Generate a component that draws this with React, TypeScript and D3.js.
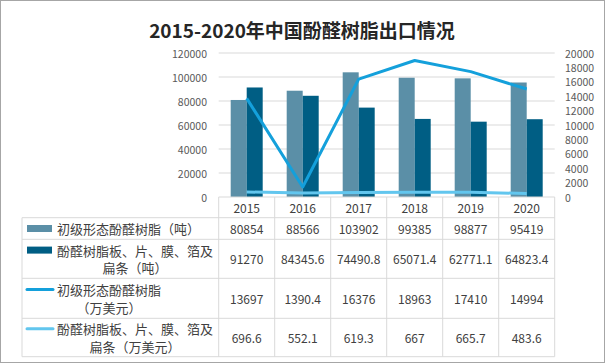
import React from 'react';
import * as d3 from 'd3';

const years = ['2015', '2016', '2017', '2018', '2019', '2020'];
const primaryTons = [80854, 88566, 103902, 99385, 98877, 95419];
const sheetTons = [91270, 84345.6, 74490.8, 65071.4, 62771.1, 64823.4];
const primaryUsd = [13697, 1390.4, 16376, 18963, 17410, 14994];
const sheetUsd = [696.6, 552.1, 619.3, 667, 665.7, 483.6];
const leftTicks = [0, 20000, 40000, 60000, 80000, 100000, 120000];
const rightTicks = [0, 2000, 4000, 6000, 8000, 10000, 12000, 14000, 16000, 18000, 20000];

const rowLabels = [
  ['初级形态酚醛树脂（吨）'],
  ['酚醛树脂板、片、膜、箔及', '扁条（吨）'],
  ['初级形态酚醛树脂', '（万美元）'],
  ['酚醛树脂板、片、膜、箔及', '扁条（万美元）'],
];

const W = 605;
const H = 364;
const plotLeft = 218.7;
const plotRight = 554.7;
const plotTop = 53;
const plotBottom = 197;
const font = '"Noto Sans CJK SC", "Noto Sans", sans-serif';

const barColors = ['#5b8fa7', '#005e84'];
const lineColors = ['#14a0db', '#62c6ee'];
const grid = '#d9d9d9';

const App: React.FC = () => {
  const x = d3.scaleBand<string>().domain(years).range([plotLeft, plotRight]);
  const inner = d3.scaleBand<number>().domain([0, 1]).range([0, x.bandwidth()]).paddingOuter(0.75);
  const yLeft = d3.scaleLinear().domain([0, 120000]).range([plotBottom, plotTop]);
  const yRight = d3.scaleLinear().domain([0, 20000]).range([plotBottom, plotTop]);

  const line = d3
    .line<number>()
    .x((_, i) => x(years[i])! + x.bandwidth() / 2)
    .y((d) => yRight(d));

  // table rows: header, then the four series
  const rowEdges = [197, 217.7, 239.3, 278.3, 318.3, 356.7];
  const tableLeft = 22;
  const series = [primaryTons, sheetTons, primaryUsd, sheetUsd];
  const fmt = (v: number) => String(v);

  return (
    <svg width={W} height={H} style={{ position: 'absolute', left: 0, top: 0, background: '#fff' }} fontFamily={font}>
      <rect x={0.5} y={0.5} width={W - 1} height={H - 2} fill="#fff" stroke="#a6a6a6" />
      <text x={302} y={29} textAnchor="middle" dominantBaseline="central" fontSize={19} fontWeight="bold" fill="#262626">
        2015-2020年中国酚醛树脂出口情况
      </text>

      {/* gridlines */}
      {leftTicks.slice(1).map((t) => (
        <line key={t} x1={plotLeft} x2={plotRight} y1={yLeft(t)} y2={yLeft(t)} stroke={grid} />
      ))}
      {leftTicks.map((t) => (
        <text key={t} x={207} y={yLeft(t)} textAnchor="end" dominantBaseline="central" fontSize={10.5} fill="#595959">
          {t}
        </text>
      ))}
      {rightTicks.map((t) => (
        <text key={t} x={565} y={yRight(t)} textAnchor="start" dominantBaseline="central" fontSize={10.5} fill="#595959">
          {t}
        </text>
      ))}

      {/* bars */}
      {[primaryTons, sheetTons].map((vals, s) =>
        vals.map((v, i) => (
          <rect
            key={`${s}-${i}`}
            x={x(years[i])! + inner(s)!}
            y={yLeft(v)}
            width={inner.bandwidth()}
            height={plotBottom - yLeft(v)}
            fill={barColors[s]}
          />
        ))
      )}

      {/* lines */}
      <path d={line(primaryUsd)!} fill="none" stroke={lineColors[0]} strokeWidth={3} strokeLinejoin="round" />
      <path d={line(sheetUsd)!} fill="none" stroke={lineColors[1]} strokeWidth={3} strokeLinejoin="round" />

      {/* data table */}
      <g stroke={grid} fill="none">
        <line x1={plotLeft} x2={plotRight} y1={rowEdges[0]} y2={rowEdges[0]} />
        {rowEdges.slice(1).map((y) => (
          <line key={y} x1={tableLeft} x2={plotRight} y1={y} y2={y} />
        ))}
        <line x1={tableLeft} x2={tableLeft} y1={rowEdges[1]} y2={rowEdges[5]} />
        {years.map((yr) => (
          <line key={yr} x1={x(yr)!} x2={x(yr)!} y1={rowEdges[0]} y2={rowEdges[5]} />
        ))}
        <line x1={plotRight} x2={plotRight} y1={rowEdges[0]} y2={rowEdges[5]} />
      </g>
      {years.map((yr) => (
        <text key={yr} x={x(yr)! + x.bandwidth() / 2} y={207.5} textAnchor="middle" dominantBaseline="central" fontSize={12} fill="#404040">
          {yr}
        </text>
      ))}
      {series.map((vals, r) => {
        const top = rowEdges[r + 1];
        const bottom = rowEdges[r + 2];
        const mid = (top + bottom) / 2;
        const lines = rowLabels[r];
        const maxChars = d3.max(lines, (l) => l.length) || 0;
        const cx = 57 + (maxChars * 13) / 2;
        const firstY = lines.length === 1 ? mid : mid - 8.7;
        return (
          <g key={r}>
            {r < 2 ? (
              <rect x={27} y={firstY - 3.5} width={25} height={7} fill={barColors[r]} />
            ) : (
              <line x1={27} x2={53} y1={firstY} y2={firstY} stroke={lineColors[r - 2]} strokeWidth={3} strokeLinecap="round" />
            )}
            {lines.map((l, k) => (
              <text key={k} x={cx} y={firstY + k * 17.4} textAnchor="middle" dominantBaseline="central" fontSize={13} fill="#404040">
                {l}
              </text>
            ))}
            {vals.map((v, i) => (
              <text key={i} x={x(years[i])! + x.bandwidth() / 2} y={mid} textAnchor="middle" dominantBaseline="central" fontSize={12} fill="#404040">
                {fmt(v)}
              </text>
            ))}
          </g>
        );
      })}
    </svg>
  );
};

export default App;
